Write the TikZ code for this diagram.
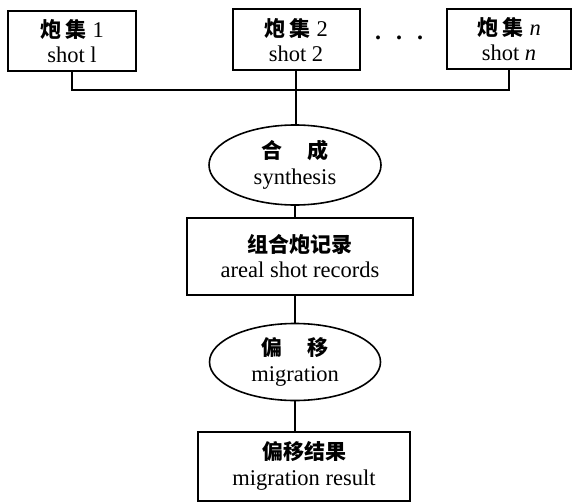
\documentclass[tikz,border=0pt]{standalone}
\usepackage{fontspec}
\setmainfont{Liberation Serif}
\newfontfamily\cjk{Noto Sans CJK SC}
\usetikzlibrary{shapes.geometric}
\tikzset{
  box/.style={draw, line width=2pt, rectangle, inner sep=0pt, align=center,
    font=\fontsize{22.5}{25.5}\selectfont},
  oval/.style={draw, line width=1.6pt, ellipse, inner sep=0pt, align=center,
    font=\fontsize{22.5}{25.5}\selectfont},
  link/.style={line width=1.6pt},
}
\newcommand{\zh}[1]{{\cjk\bfseries\fontsize{21}{25.5}\selectfont #1}}
\begin{document}
\begin{tikzpicture}[x=1pt,y=-1pt]
\useasboundingbox (0,0) rectangle (573,503);
\node[box, minimum width=128pt, minimum height=60pt] (b1) at (72,41) {\zh{炮\ 集}\ 1\\shot l};
\node[box, minimum width=127pt, minimum height=61pt] (b2) at (296,40) {\zh{炮\ 集}\ 2\\shot 2};
\node[box, minimum width=124pt, minimum height=60pt] (b3) at (509,39) {\zh{炮\ 集}\ \textit{n}\\shot \textit{n}};
\node[font=\bfseries\fontsize{24}{25}\selectfont, inner sep=0pt] (dots) at (399,38) {.\hspace{15pt}.\hspace{15pt}.};
\node[oval, minimum width=172pt, minimum height=80pt] (e1) at (295,165) {\zh{合\hspace{1.2em}成}\\synthesis};
\node[box, minimum width=226pt, minimum height=77pt] (b4) at (300,256) {\zh{组合炮记录}\\areal shot records};
\node[oval, minimum width=171pt, minimum height=77pt] (e2) at (295,362) {\zh{偏\hspace{1.2em}移}\\migration};
\node[box, minimum width=212pt, minimum height=69pt] (b5) at (304,466) {\zh{偏移结果}\\migration result};
\coordinate (hl) at (72,90);
\draw[link] (b1.south) |- (hl) -| (b3.south);
\draw[link] (b2.south) -- (b2.south |- e1.north);
\draw[link] (e1.south) -- (e1.south |- b4.north);
\draw[link] (e2.north |- b4.south) -- (e2.north);
\draw[link] (e2.south) -- (e2.south |- b5.north);
\end{tikzpicture}
\end{document}
